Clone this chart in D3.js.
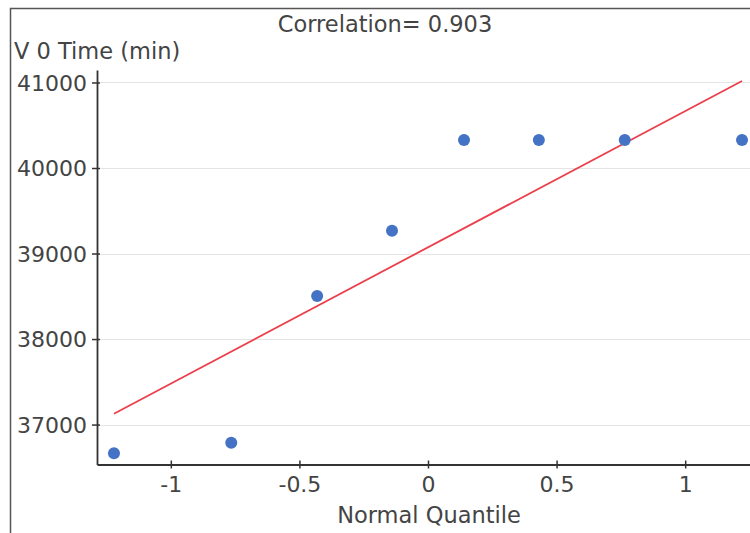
<!DOCTYPE html>
<html>
<head>
<meta charset="utf-8">
<script src="https://cdn.jsdelivr.net/npm/d3@7"></script>
<style>
  body { margin: 0; background: #fff; }
  svg text { font-family: "DejaVu Sans", Verdana, sans-serif; fill: #444; }
</style>
</head>
<body>
<div id="chart"></div>
<script>
// normal quantiles and observed V 0 Time values
const quantiles = [-1.221, -0.765, -0.431, -0.140, 0.140, 0.431, 0.765, 1.221];
const timeValues = [36665, 36787, 38504, 39265, 40327, 40327, 40327, 40327];
// fitted reference line end points
const fitX = [-1.221, 1.221];
const fitY = [37127, 41018];
const yTicks = [37000, 38000, 39000, 40000, 41000];
const xTicks = [-1, -0.5, 0, 0.5, 1];
const correlation = 0.903;

const width = 750, height = 533;
const svg = d3.select('#chart').append('svg')
    .attr('width', width)
    .attr('height', height);

// outer frame (cut at right and bottom)
svg.append('path')
    .attr('d', 'M10.5,' + height + ' L10.5,8.5 L' + width + ',8.5')
    .attr('fill', 'none')
    .attr('stroke', '#555')
    .attr('stroke-width', 1.5);

const x = d3.scaleLinear().domain([-1.287, 1.287]).range([97, 759]);
const y = d3.scaleLinear().domain([36533, 41146]).range([464.5, 70]);

// grid
svg.selectAll('.grid')
    .data(yTicks)
    .enter().append('line')
    .attr('class', 'grid')
    .attr('x1', 100)
    .attr('x2', width)
    .attr('y1', d => Math.round(y(d)) + 0.5)
    .attr('y2', d => Math.round(y(d)) + 0.5)
    .attr('stroke', '#e4e4e4')
    .attr('stroke-width', 1.2);

// y axis
const yAxis = svg.append('g')
    .attr('transform', 'translate(97,0)')
    .call(d3.axisLeft(y).tickValues(yTicks).tickFormat(d3.format('d')).tickSize(5).tickPadding(5).tickSizeOuter(0));
yAxis.select('.domain').attr('stroke', '#333').attr('stroke-width', 1.8);
yAxis.selectAll('.tick line').attr('x1', -5).attr('x2', 3).attr('stroke', '#333').attr('stroke-width', 1.5);
yAxis.selectAll('.tick text').style('font-size', '22px').attr('dy', '0.36em');

// x axis
const xAxis = svg.append('g')
    .attr('transform', 'translate(0,464.5)')
    .call(d3.axisBottom(x).tickValues(xTicks).tickFormat(d => d).tickSize(4).tickPadding(8).tickSizeOuter(0));
xAxis.select('.domain').attr('stroke', '#333').attr('stroke-width', 1.8);
xAxis.selectAll('.tick line').attr('y1', -4).attr('y2', 4).attr('stroke', '#333').attr('stroke-width', 1.5);
xAxis.selectAll('.tick text').style('font-size', '22px');

// fit line
svg.append('line')
    .attr('x1', x(fitX[0]))
    .attr('y1', y(fitY[0]))
    .attr('x2', x(fitX[1]))
    .attr('y2', y(fitY[1]))
    .attr('stroke', '#ec3f4c')
    .attr('stroke-width', 1.8);

// points
svg.selectAll('.dot')
    .data(quantiles)
    .enter().append('circle')
    .attr('class', 'dot')
    .attr('cx', d => x(d))
    .attr('cy', (d, i) => y(timeValues[i]))
    .attr('r', 6)
    .attr('fill', '#4472c4');

// titles
svg.append('text')
    .attr('x', 385)
    .attr('y', 32)
    .attr('text-anchor', 'middle')
    .style('font-size', '22.5px')
    .text('Correlation= ' + correlation.toFixed(3));

svg.append('text')
    .attr('x', 14)
    .attr('y', 59)
    .style('font-size', '22.5px')
    .text('V 0 Time (min)');

svg.append('text')
    .attr('x', 429)
    .attr('y', 523)
    .attr('text-anchor', 'middle')
    .style('font-size', '22.5px')
    .text('Normal Quantile');
</script>
</body>
</html>
